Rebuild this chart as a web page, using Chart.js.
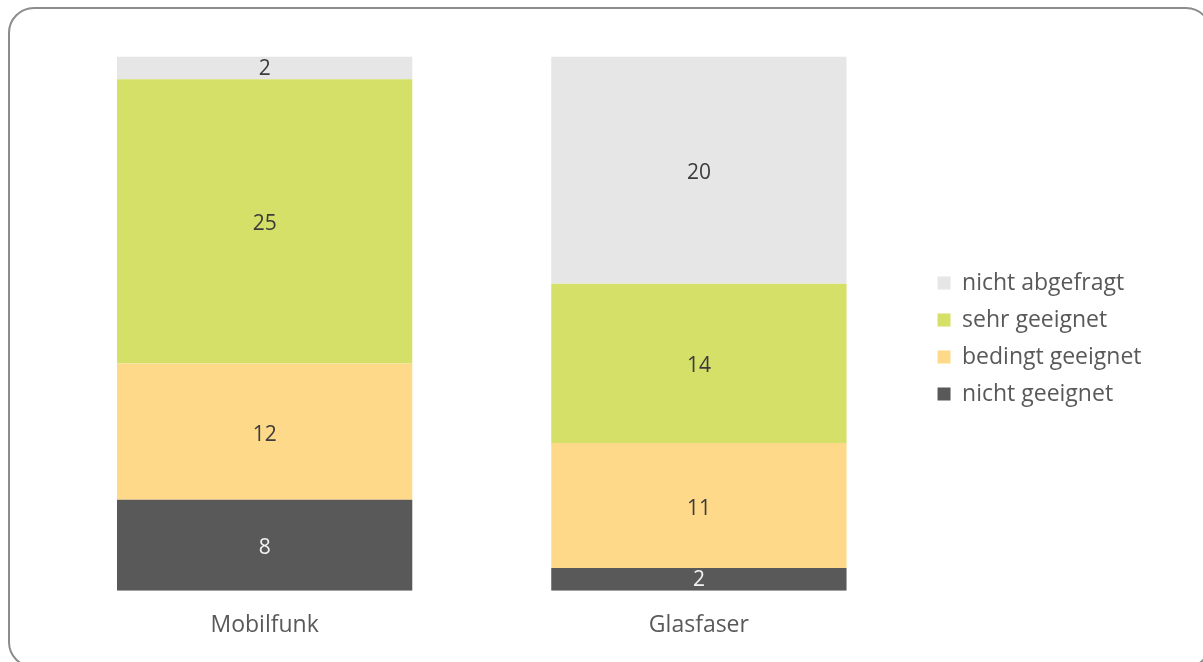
<!DOCTYPE html>
<html>
<head>
<meta charset="utf-8">
<script src="https://cdn.jsdelivr.net/npm/chart.js@4"></script>
<style>
	html, body { margin: 0; padding: 0; background: #fff; }
	#wrap { position: relative; width: 1203px; height: 662px; overflow: hidden; }
	#frame {
		position: absolute; left: 8px; top: 7px; width: 1204px; height: 661px;
		border: 2px solid #8c8c8c; border-radius: 26px; box-sizing: border-box;
		pointer-events: none;
	}
	canvas { position: absolute; left: 0; top: 0; }
</style>
</head>
<body>
<div id="wrap">
	<canvas id="chart" width="1203" height="662"></canvas>
	<div id="frame"></div>
</div>
<script>
	// data, bottom to top
	const categories = ["Mobilfunk", "Glasfaser"];
	const nichtGeeignet = [8, 2];
	const bedingtGeeignet = [12, 11];
	const sehrGeeignet = [25, 14];
	const nichtAbgefragt = [2, 20];

	const fontFamily = "'Open Sans', sans-serif";

	// draws the value in the middle of each segment
	const valueLabels = {
		id: 'valueLabels',
		afterDatasetsDraw(chart) {
			const ctx = chart.ctx;
			ctx.save();
			ctx.font = "21px " + fontFamily;
			ctx.textAlign = "center";
			ctx.textBaseline = "middle";
			chart.data.datasets.forEach((ds, i) => {
				chart.getDatasetMeta(i).data.forEach((bar, j) => {
					const y = (bar.y + bar.base) / 2;
					// thin segments get their label centred exactly
					const shift = bar.base - bar.y > 40 ? 3 : 1;
					ctx.fillStyle = ds.labelColor;
					ctx.fillText(ds.data[j], bar.x, y + shift);
				});
			});
			ctx.restore();
		}
	};

	// small gap between plot and legend
	const legendNudge = {
		id: 'legendNudge',
		afterLayout(chart) {
			chart.legend.left += 7.5;
			chart.legend.right += 7.5;
		}
	};

	new Chart(document.getElementById('chart'), {
		type: 'bar',
		data: {
			labels: categories,
			datasets: [
				{ label: 'nicht geeignet', data: nichtGeeignet, backgroundColor: '#595959', labelColor: '#f2f2f2' },
				{ label: 'bedingt geeignet', data: bedingtGeeignet, backgroundColor: '#ffd98a', labelColor: '#3c3c3c' },
				{ label: 'sehr geeignet', data: sehrGeeignet, backgroundColor: '#d4e067', labelColor: '#3c3c3c' },
				{ label: 'nicht abgefragt', data: nichtAbgefragt, backgroundColor: '#e6e6e6', labelColor: '#3c3c3c' }
			]
		},
		options: {
			responsive: false,
			animation: false,
			datasets: {
				bar: { barPercentage: 1, categoryPercentage: 0.68 }
			},
			layout: {
				padding: { left: 47.5, top: 56.5, bottom: 9.6, right: 59 }
			},
			scales: {
				x: {
					stacked: true,
					grid: { display: false },
					border: { display: false },
					ticks: { color: '#595959', padding: 13, font: { family: fontFamily, size: 23 } }
				},
				y: {
					stacked: true,
					display: false,
					min: 0,
					max: 47
				}
			},
			plugins: {
				tooltip: { enabled: false },
				legend: {
					position: 'right',
					reverse: true,
					align: 'start',
					title: {
						display: true,
						text: ' ',
						font: { size: 10 },
						padding: { top: 0, bottom: 189 }
					},
					labels: {
						boxWidth: 13,
						boxHeight: 13,
						padding: 14,
						color: '#595959',
						font: { family: fontFamily, size: 23 }
					}
				}
			}
		},
		plugins: [valueLabels, legendNudge]
	});
</script>
</body>
</html>
